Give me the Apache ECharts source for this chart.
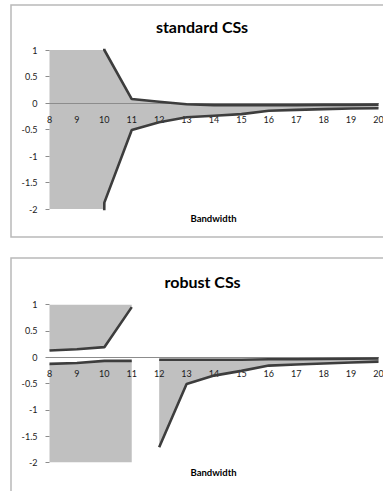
<!DOCTYPE html>
<html>
<head>
<meta charset="utf-8">
<script src="https://cdn.jsdelivr.net/npm/echarts@6/dist/echarts.min.js"></script>
<style>
html,body{margin:0;padding:0;background:#ffffff;}
#c{width:383px;height:491px;}
</style>
</head>
<body>
<div id="c"></div>
<script>
// ---- data ----
const bandwidths = ['8','9','10','11','12','13','14','15','16','17','18','19','20'];
const yTickValues = [-2, -1.5, -1, -0.5, 0, 0.5, 1];

// standard CSs (values at 8 and 9 lie far outside the plotted range)
const stdUpper = [50, 50, 1.0, 0.075, 0.025, -0.025, -0.04, -0.04, -0.04, -0.04, -0.035, -0.035, -0.03];
const stdLower = [-50, -50, -1.88, -0.51, -0.365, -0.27, -0.24, -0.21, -0.145, -0.13, -0.115, -0.105, -0.1];

// robust CSs: for 8-11 the set is (-inf, lower] U [upper, +inf); for 12-20 it is [lower, upper]
const robUpperLeft  = [0.126, 0.15, 0.19, 0.95, null, null, null, null, null, null, null, null, null];
const robLowerLeft  = [-0.128, -0.11, -0.07, -0.07, null, null, null, null, null, null, null, null, null];
const robUpperRight = [null, null, null, null, -0.05, -0.05, -0.05, -0.05, -0.04, -0.04, -0.035, -0.03, -0.025];
const robLowerRight = [null, null, null, null, -1.71, -0.51, -0.35, -0.26, -0.16, -0.14, -0.12, -0.1, -0.085];

// ---- styling ----
const DARK = '#3d3d3d';
const FILL = '#c0c0c0';
const AXIS = '#8c8c8c';
const FONT = 'Lato, "Open Sans", sans-serif';

const grids = [
  { left: 49.5, top: 50, width: 329, height: 159, outerBoundsMode: 'none' },
  { left: 49.5, top: 304.5, width: 329, height: 158, outerBoundsMode: 'none' }
];
const yMin = yTickValues[0], yMax = yTickValues[yTickValues.length - 1];

const diff = (up, lo) => up.map((u, i) => (u == null || lo[i] == null) ? null : u - lo[i]);

function xAxisFor(g) {
  // place the category axis (line + labels) where y = 0 crosses the plot
  const zeroFromBottom = (0 - yMin) / (yMax - yMin) * grids[g].height;
  return {
    gridIndex: g, type: 'category', data: bandwidths, boundaryGap: false, z: 2,
    position: 'bottom', offset: -zeroFromBottom,
    axisLine: { onZero: false, lineStyle: { color: AXIS, width: 1 } },
    axisTick: { show: false },
    axisLabel: { interval: 0, margin: 12, fontFamily: FONT, fontSize: 9, color: '#1a1a1a' },
    splitLine: { show: false }
  };
}
function yAxisFor(g) {
  return {
    gridIndex: g, type: 'value', min: yMin, max: yMax,
    interval: yTickValues[1] - yTickValues[0], z: 2,
    axisLine: { show: false },
    axisTick: { show: true, length: 4, lineStyle: { color: AXIS } },
    axisLabel: { margin: 12, fontFamily: FONT, fontSize: 9, color: '#1a1a1a' },
    splitLine: { show: false }
  };
}
function fill(g, data, opts) {
  return Object.assign({
    type: 'line', xAxisIndex: g, yAxisIndex: g, data: data, symbol: 'none', silent: true, z: 1,
    lineStyle: { width: 0, opacity: 0 }, clip: true
  }, opts);
}
function line(g, data) {
  return {
    type: 'line', xAxisIndex: g, yAxisIndex: g, data: data, symbol: 'none', silent: true, z: 3,
    lineStyle: { color: DARK, width: 2.6 }, clip: true
  };
}
const gray = { color: FILL, opacity: 1 };

const option = {
  animation: false,
  grid: grids,
  xAxis: [xAxisFor(0), xAxisFor(1)],
  yAxis: [yAxisFor(0), yAxisFor(1)],
  series: [
    // standard band
    fill(0, stdLower, { stack: 'std', stackStrategy: 'all' }),
    fill(0, diff(stdUpper, stdLower), { stack: 'std', stackStrategy: 'all', areaStyle: gray }),
    line(0, stdUpper),
    line(0, stdLower),
    // robust: unbounded parts for 8-11
    fill(1, robUpperLeft, { areaStyle: Object.assign({ origin: 'end' }, gray) }),
    fill(1, robLowerLeft, { areaStyle: Object.assign({ origin: 'start' }, gray) }),
    // robust: band for 12-20
    fill(1, robLowerRight, { stack: 'rob', stackStrategy: 'all' }),
    fill(1, diff(robUpperRight, robLowerRight), { stack: 'rob', stackStrategy: 'all', areaStyle: gray }),
    line(1, robUpperLeft),
    line(1, robLowerLeft),
    line(1, robUpperRight),
    line(1, robLowerRight)
  ],
  graphic: [
    { type: 'rect', silent: true, shape: { x: 11, y: 5, width: 390, height: 232 },
      style: { fill: 'none', stroke: '#b9b9b9', lineWidth: 1.5 } },
    { type: 'rect', silent: true, shape: { x: 11, y: 258, width: 390, height: 260 },
      style: { fill: 'none', stroke: '#b9b9b9', lineWidth: 1.5 } },
    { type: 'text', silent: true, x: 202, y: 26.5,
      style: { text: 'standard CSs', font: 'bold 16px ' + FONT, fill: '#000',
               align: 'center', verticalAlign: 'middle', textAlign: 'center', textVerticalAlign: 'middle' } },
    { type: 'text', silent: true, x: 202.5, y: 281.5,
      style: { text: 'robust CSs', font: 'bold 16px ' + FONT, fill: '#000',
               align: 'center', verticalAlign: 'middle', textAlign: 'center', textVerticalAlign: 'middle' } },
    { type: 'text', silent: true, x: 213.5, y: 218.5,
      style: { text: 'Bandwidth', font: 'bold 9.5px ' + FONT, fill: '#000',
               align: 'center', verticalAlign: 'middle', textAlign: 'center', textVerticalAlign: 'middle' } },
    { type: 'text', silent: true, x: 213.5, y: 472,
      style: { text: 'Bandwidth', font: 'bold 9.5px ' + FONT, fill: '#000',
               align: 'center', verticalAlign: 'middle', textAlign: 'center', textVerticalAlign: 'middle' } }
  ]
};

const chart = echarts.init(document.getElementById('c'), null, { renderer: 'svg', width: 383, height: 491 });
chart.setOption(option);
</script>
</body>
</html>
